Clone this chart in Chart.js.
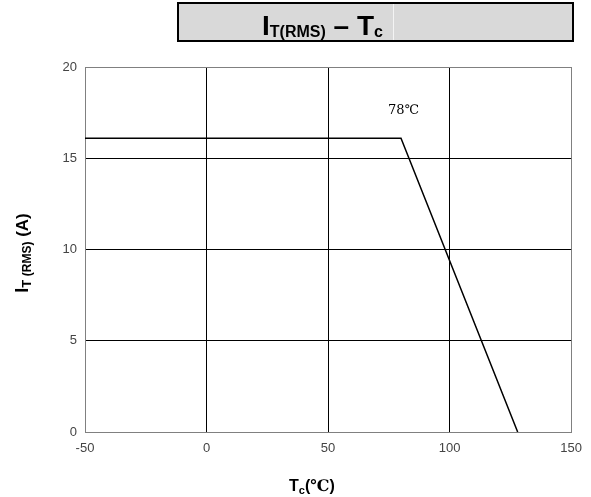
<!DOCTYPE html>
<html>
<head>
<meta charset="utf-8">
<script src="https://cdn.jsdelivr.net/npm/chart.js@4.4.0/dist/chart.umd.min.js"></script>
<style>
  html, body { margin: 0; padding: 0; background: #fff; }
  #wrap { width: 591px; height: 497px; position: relative; }
</style>
</head>
<body>
<div id="wrap"><canvas id="c" width="591" height="497"></canvas></div>
<script>
// curve: flat current, then derating to zero
const tempC = [-50, 80, 128];
const currentA = [16.1, 16.1, 0];
const xTicks = [-50, 0, 50, 100, 150];
const yTicks = [0, 5, 10, 15, 20];
const kneeLabel = '78℃';
const kneeLabelAt = [81, 17.6];

const FONT = 'Arial, "Liberation Sans", sans-serif';

// draws a run of [text, size, drop] pieces, subscripts dropped down a bit
function drawRuns(ctx, runs, x, y, align) {
  let total = 0;
  runs.forEach((r) => {
    ctx.font = 'bold ' + r[1] + 'px ' + FONT;
    total += ctx.measureText(r[0]).width;
  });
  let cx = align === 'center' ? x - total / 2 : x;
  runs.forEach((r) => {
    ctx.font = 'bold ' + r[1] + 'px ' + FONT;
    ctx.fillText(r[0], cx, y + (r[2] || 0));
    cx += ctx.measureText(r[0]).width;
  });
}

const decorations = {
  id: 'decorations',
  afterDraw(chart) {
    const ctx = chart.ctx;
    const { x, y } = chart.scales;
    ctx.save();

    // title box
    ctx.fillStyle = '#d9d9d9';
    ctx.fillRect(178, 3, 395, 38);
    ctx.strokeStyle = '#f4f4f4';
    ctx.lineWidth = 1;
    ctx.beginPath();
    ctx.moveTo(393.5, 4);
    ctx.lineTo(393.5, 40);
    ctx.stroke();
    ctx.lineWidth = 2;
    ctx.strokeStyle = '#000';
    ctx.strokeRect(178, 3, 395, 38);
    ctx.fillStyle = '#000';
    ctx.textBaseline = 'alphabetic';
    drawRuns(ctx, [['I', 28], ['T(RMS)', 16, 2], [' – ', 28], ['T', 28], ['c', 16, 2]], 262, 35, 'left');

    // x title
    ctx.fillStyle = '#000';
    ctx.font = 'bold 16px ' + FONT;
    let tx = 289;
    ctx.fillText('T', tx, 491);
    tx += ctx.measureText('T').width;
    ctx.font = 'bold 11px ' + FONT;
    ctx.fillText('c', tx, 494);
    tx += ctx.measureText('c').width;
    ctx.font = 'bold 16px ' + FONT;
    ctx.fillText('(', tx, 491);
    tx += ctx.measureText('(').width;
    ctx.font = 'bold 16px "DejaVu Serif", "Liberation Serif", serif';
    ctx.fillText('℃', tx, 491);
    tx += ctx.measureText('℃').width;
    ctx.font = 'bold 16px ' + FONT;
    ctx.fillText(')', tx, 491);

    // y title, rotated
    ctx.translate(28, 253);
    ctx.rotate(-Math.PI / 2);
    drawRuns(ctx, [['I', 18], ['T ', 13, 3], ['(RMS)', 12, 3], [' (A)', 17]], 0, 0, 'center');
    ctx.setTransform(1, 0, 0, 1, 0, 0);

    // knee annotation
    ctx.font = '13px "DejaVu Serif", "Liberation Serif", serif';
    ctx.textAlign = 'center';
    ctx.textBaseline = 'middle';
    ctx.fillText(kneeLabel, x.getPixelForValue(kneeLabelAt[0]), y.getPixelForValue(kneeLabelAt[1]));
    ctx.restore();
  },
};

const gridColor = (c) =>
  c.tick && (c.index === 0 || c.index === 4) ? '#808080' : '#000';

new Chart(document.getElementById('c'), {
  type: 'scatter',
  data: {
    datasets: [
      {
        data: tempC.map((t, i) => ({ x: t, y: currentA[i] })),
        showLine: true,
        borderColor: '#000',
        borderWidth: 1.5,
        pointRadius: 0,
        tension: 0,
      },
    ],
  },
  options: {
    responsive: false,
    animation: false,
    devicePixelRatio: 1,
    layout: { padding: { left: 0, top: 67, right: 19, bottom: 0 } },
    plugins: { legend: { display: false }, tooltip: { enabled: false } },
    scales: {
      x: {
        type: 'linear',
        min: -50,
        max: 150,
        afterBuildTicks: (s) => { s.ticks = xTicks.map((v) => ({ value: v })); },
        afterFit: (s) => { s.height = 65; },
        ticks: { color: '#444', font: { family: FONT, size: 13 }, padding: 9 },
        grid: { color: gridColor, lineWidth: 1, drawTicks: false },
        border: { color: '#808080', width: 1 },
      },
      y: {
        min: 0,
        max: 20,
        afterBuildTicks: (s) => { s.ticks = yTicks.map((v) => ({ value: v })); },
        afterFit: (s) => { s.width = 85; },
        ticks: { color: '#444', font: { family: FONT, size: 13 }, padding: 8 },
        grid: { color: gridColor, lineWidth: 1, drawTicks: false },
        border: { color: '#808080', width: 1 },
      },
    },
  },
  plugins: [decorations],
});
</script>
</body>
</html>
